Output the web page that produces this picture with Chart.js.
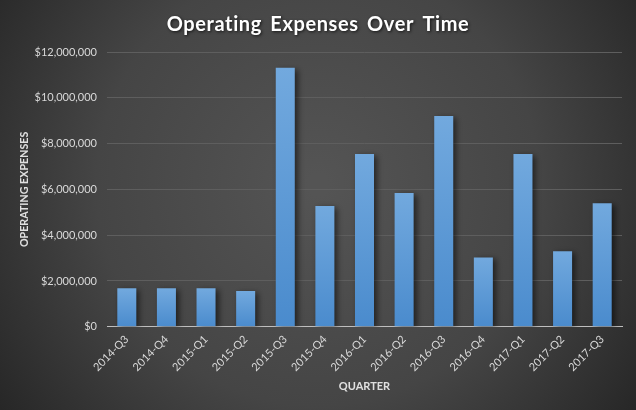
<!DOCTYPE html>
<html>
<head>
<meta charset="utf-8">
<script src="https://cdn.jsdelivr.net/npm/chart.js@4"></script>
<style>
html,body{margin:0;padding:0;background:#333;}
#wrap{width:636px;height:410px;position:relative;}
</style>
</head>
<body>
<div id="wrap"><canvas id="c" width="636" height="410"></canvas></div>
<script>
const chartTitle = "Operating Expenses Over Time";
const quarters = ["2014-Q3","2014-Q4","2015-Q1","2015-Q2","2015-Q3","2015-Q4","2016-Q1","2016-Q2","2016-Q3","2016-Q4","2017-Q1","2017-Q2","2017-Q3"];
const expenses = [1680000,1680000,1680000,1560000,11310000,5270000,7550000,5840000,9210000,3030000,7550000,3300000,5400000];
const yTicks = [0,2000000,4000000,6000000,8000000,10000000,12000000];

const bgPlugin = {
  id: 'bg',
  beforeDraw(chart) {
    const ctx = chart.ctx, w = chart.width, h = chart.height;
    ctx.save();
    const g = ctx.createRadialGradient(w*0.5, h*0.45, 10, w*0.5, h*0.45, w*0.62);
    g.addColorStop(0, '#545454');
    g.addColorStop(0.55, '#454545');
    g.addColorStop(1, '#262626');
    ctx.fillStyle = g;
    ctx.fillRect(0, 0, w, h);
    ctx.restore();
  }
};
const titlePlugin = {
  id: 'spacedTitle',
  afterDraw(chart) {
    const ctx = chart.ctx;
    ctx.save();
    ctx.font = 'bold 20px Lato';
    ctx.fillStyle = '#ffffff';
    ctx.textAlign = 'center';
    ctx.textBaseline = 'alphabetic';
    if ('letterSpacing' in ctx) ctx.letterSpacing = '0.6px';
    if ('wordSpacing' in ctx) ctx.wordSpacing = '3px';
    ctx.shadowColor = 'rgba(0,0,0,0.7)';
    ctx.shadowBlur = 3;
    ctx.shadowOffsetX = 1;
    ctx.shadowOffsetY = 1;
    ctx.fillText(chartTitle, 318, 31);
    ctx.restore();
  }
};
const shadowPlugin = {
  id: 'barShadow',
  beforeDatasetsDraw(chart) {
    const ctx = chart.ctx;
    ctx.save();
    ctx.shadowColor = 'rgba(0,0,0,0.55)';
    ctx.shadowBlur = 6;
    ctx.shadowOffsetX = 3;
    ctx.shadowOffsetY = 2;
  },
  afterDatasetsDraw(chart) {
    chart.ctx.restore();
  }
};

new Chart(document.getElementById('c'), {
  type: 'bar',
  data: {
    labels: quarters,
    datasets: [{
      label: 'Operating Expenses',
      data: expenses,
      backgroundColor(context) {
        const chart = context.chart;
        const area = chart.chartArea;
        if (!area) return '#5b9bd5';
        const ys = chart.scales.y;
        const v = context.raw || 0;
        const top = ys.getPixelForValue(v);
        const g = chart.ctx.createLinearGradient(0, top, 0, area.bottom);
        g.addColorStop(0, '#72a9de');
        g.addColorStop(1, '#4a8bcd');
        return g;
      },
      borderWidth: 0,
      barPercentage: 0.96,
      categoryPercentage: 0.5
    }]
  },
  options: {
    responsive: false,
    animation: false,
    devicePixelRatio: 1,
    layout: { padding: { left: 0, right: 14, top: 52, bottom: 13 } },
    plugins: {
      legend: { display: false },
      tooltip: { enabled: false },
      title: { display: false }
    },
    scales: {
      x: {
        grid: { display: false, drawTicks: false },
        border: { display: true, color: '#bfbfbf', width: 1 },
        ticks: {
          color: '#d9d9d9',
          font: { family: 'Lato', size: 11 },
          maxRotation: 45,
          minRotation: 45,
          padding: 6
        },
        title: {
          display: true,
          text: 'QUARTER',
          color: '#e0e0e0',
          font: { family: 'Lato', size: 11, weight: 'bold' },
          padding: { top: 0 }
        }
      },
      y: {
        min: 0,
        max: 12000000,
        afterBuildTicks(axis) { axis.ticks = yTicks.map(v => ({ value: v })); },
        afterFit(axis) { axis.width = 107; },
        grid: { color: '#5e5e5e', lineWidth: 1, drawTicks: false },
        border: { display: false },
        ticks: {
          color: '#d9d9d9',
          font: { family: 'Lato', size: 11 },
          padding: 10,
          callback: v => '$' + Number(v).toLocaleString('en-US')
        },
        title: {
          display: true,
          text: 'OPERATING EXPENSES',
          color: '#e0e0e0',
          font: { family: 'Lato', size: 10.7, weight: 'bold' },
          padding: { top: 18, bottom: 0 }
        }
      }
    }
  },
  plugins: [bgPlugin, shadowPlugin, titlePlugin]
});
</script>
</body>
</html>
